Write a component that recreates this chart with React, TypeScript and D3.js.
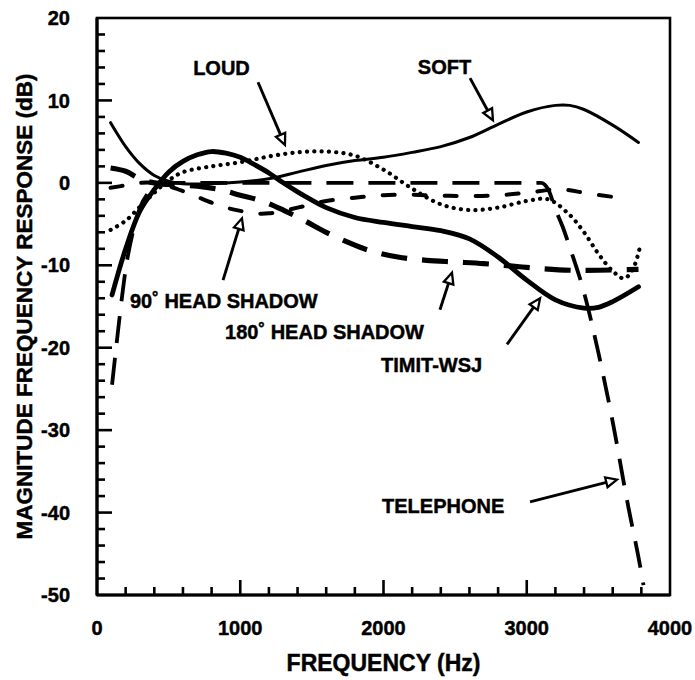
import React from 'react';
import * as d3 from 'd3';

// Frequency responses: [frequency (Hz), magnitude (dB)]
const soft: [number, number][] = [
  [95, 7.3], [200, 4.4], [300, 2.3], [400, 0.9], [500, 0.2], [600, -0.1], [800, -0.1],
  [1000, 0.1], [1200, 0.5], [1400, 1.3], [1600, 2.1], [1800, 2.7], [2000, 3.1],
  [2200, 3.7], [2400, 4.4], [2600, 5.5], [2800, 7.1], [3000, 8.6], [3200, 9.4],
  [3300, 9.4], [3400, 8.9], [3600, 7.0], [3780, 4.9],
];

const timitWsj: [number, number][] = [
  [105, -13.6], [200, -8], [300, -3.4], [400, -0.8], [500, 1.3], [600, 2.6], [700, 3.4],
  [800, 3.8], [900, 3.6], [1000, 3.1], [1100, 2.2], [1200, 1.2], [1300, 0], [1400, -1.1],
  [1500, -2.1], [1600, -3.0], [1800, -4.2], [2000, -4.8], [2200, -5.3], [2400, -5.8],
  [2600, -6.8], [2800, -9.0], [3000, -11.8], [3200, -14.2], [3400, -15.2], [3500, -15.1],
  [3600, -14.4], [3780, -12.6],
];

const loud: [number, number][] = [
  [95, -5.7], [200, -4.6], [300, -2.9], [400, -1.2], [500, 0.3], [600, 1.3], [800, 2.0],
  [1000, 2.5], [1200, 3.2], [1400, 3.7], [1600, 3.8], [1800, 3.3], [2000, 1.6],
  [2200, -0.7], [2400, -2.6], [2600, -3.3], [2800, -3.0], [3000, -2.2], [3150, -2.0],
  [3300, -3.9], [3400, -6.0], [3500, -8.6], [3600, -10.7], [3680, -11.6], [3740, -10.5],
  [3790, -7.8],
];

const telephone: [number, number][] = [
  [105, -24.5], [140, -19], [170, -14.5], [200, -10.5], [250, -6], [300, -3], [350, -1.4],
  [400, -0.5], [500, 0], [1000, 0], [2000, 0], [3000, 0], [3100, 0], [3150, -0.8],
  [3200, -3.2], [3250, -5.3], [3300, -7.8], [3400, -13.3], [3500, -20.6], [3600, -29],
  [3700, -38.5], [3800, -47.3], [3815, -48.8],
];

const headShadow180: [number, number][] = [
  [95, 1.8], [200, 1.4], [300, 0.5], [400, 0], [500, -0.2], [700, -0.4], [850, -0.8],
  [1000, -1.5], [1150, -2.2], [1300, -3.3], [1450, -4.6], [1600, -6.0], [1750, -7.2],
  [1900, -8.2], [2100, -9.0], [2300, -9.4], [2500, -9.6], [2700, -9.8], [2900, -10.1],
  [3100, -10.4], [3300, -10.6], [3500, -10.6], [3780, -10.5],
];

const headShadow90: [number, number][] = [
  [95, -0.6], [200, -0.3], [300, 0], [400, 0], [500, -0.4], [600, -1.0], [700, -1.7],
  [800, -2.4], [900, -3.0], [1000, -3.4], [1100, -3.7], [1200, -3.7], [1300, -3.4],
  [1400, -3.0], [1500, -2.6], [1600, -2.2], [1800, -1.8], [2000, -1.5], [2200, -1.45],
  [2400, -1.55], [2600, -1.6], [2800, -1.5], [3000, -1.2], [3200, -0.8], [3300, -0.9],
  [3400, -1.2], [3600, -1.7], [3700, -1.9],
];

const xTicks = [0, 1000, 2000, 3000, 4000];
const yTicks = [20, 10, 0, -10, -20, -30, -40, -50];

const W = 695;
const H = 680;
const FONT = "'Liberation Sans', Arial, Helvetica, sans-serif";

const x = d3.scaleLinear().domain([0, 4000]).range([97, 670]);
const y = d3.scaleLinear().domain([-50, 20]).range([595, 18]);

const smooth = d3
  .line<[number, number]>()
  .x((d) => x(d[0]))
  .y((d) => y(d[1]))
  .curve(d3.curveCatmullRom.alpha(0.5));

const monotone = d3
  .line<[number, number]>()
  .x((d) => x(d[0]))
  .y((d) => y(d[1]))
  .curve(d3.curveMonotoneX);

type Series = {
  name: string;
  data: [number, number][];
  width: number;
  dash?: string;
  cap: 'round' | 'butt';
  gen: typeof smooth;
};

const series: Series[] = [
  { name: 'telephone', data: telephone, width: 3.8, dash: '27 15', cap: 'butt', gen: monotone },
  { name: 'shadow180', data: headShadow180, width: 5.2, dash: '26 15', cap: 'butt', gen: smooth },
  { name: 'shadow90', data: headShadow90, width: 4, dash: '12 19', cap: 'round', gen: smooth },
  { name: 'loud', data: loud, width: 4.2, dash: '0.1 7.2', cap: 'round', gen: smooth },
  { name: 'soft', data: soft, width: 3, cap: 'round', gen: smooth },
  { name: 'timit', data: timitWsj, width: 4.8, cap: 'round', gen: smooth },
];

// Callouts in data units: label anchor and arrow from tail to tip
type Callout = {
  text: string;
  at: [number, number];
  anchor: 'start' | 'middle';
  from: [number, number];
  to: [number, number];
};

const callouts: Callout[] = [
  { text: 'LOUD', at: [869, 13.1], anchor: 'middle', from: [1124, 12.2], to: [1312, 4.6] },
  { text: 'SOFT', at: [2426, 13.2], anchor: 'middle', from: [2604, 12.7], to: [2764, 7.6] },
  { text: '90˚ HEAD SHADOW', at: [230, -15.15], anchor: 'start', from: [880, -11.8], to: [1012, -4.3] },
  { text: '180˚ HEAD SHADOW', at: [894, -19.0], anchor: 'start', from: [2394, -15.4], to: [2478, -10.9] },
  { text: 'TIMIT-WSJ', at: [1983, -22.9], anchor: 'start', from: [2862, -19.6], to: [3093, -14.0] },
  { text: 'TELEPHONE', at: [1990, -40.0], anchor: 'start', from: [3023, -38.7], to: [3630, -36.0] },
];

function Arrow({ from, to }: { from: [number, number]; to: [number, number] }) {
  const x1 = x(from[0]);
  const y1 = y(from[1]);
  const x2 = x(to[0]);
  const y2 = y(to[1]);
  const ang = Math.atan2(y2 - y1, x2 - x1);
  const len = 11;
  const half = 5;
  const bx = x2 - len * Math.cos(ang);
  const by = y2 - len * Math.sin(ang);
  const px = -Math.sin(ang) * half;
  const py = Math.cos(ang) * half;
  const head = `${x2},${y2} ${bx + px},${by + py} ${bx - px},${by - py}`;
  return (
    <g>
      <line x1={x1} y1={y1} x2={bx} y2={by} stroke="#000" strokeWidth={2.9} />
      <polygon points={head} fill="#fff" stroke="#000" strokeWidth={2.3} strokeLinejoin="miter" />
    </g>
  );
}

export default function App() {
  const xMinor = d3.range(0, 4001, 200);
  const yMinor = d3.range(-50, 21, 2);
  const [x0, x1] = x.range();
  const [y0, y1] = y.range();

  return (
    <svg
      width={W}
      height={H}
      viewBox={`0 0 ${W} ${H}`}
      style={{ position: 'absolute', left: 0, top: 0, background: '#fff' }}
      fontFamily={FONT}
      fontWeight="bold"
    >
      <rect x={0} y={0} width={W} height={H} fill="#fff" />

      {/* curves */}
      <g fill="none" stroke="#000" strokeLinejoin="round">
        {series.map((s) => (
          <path
            key={s.name}
            d={s.gen(s.data) ?? ''}
            strokeWidth={s.width}
            strokeDasharray={s.dash}
            strokeLinecap={s.cap}
          />
        ))}
      </g>

      {/* frame */}
      <rect x={x0} y={y1} width={x1 - x0} height={y0 - y1} fill="none" stroke="#000" strokeWidth={2.6} />
      <line x1={x0} y1={y1} x2={x0} y2={y0} stroke="#000" strokeWidth={3.2} />
      <line x1={x0} y1={y0} x2={x1} y2={y0} stroke="#000" strokeWidth={3.2} />

      {/* ticks, pointing inward */}
      <g stroke="#000" strokeWidth={2.6}>
        {xMinor.map((f) => {
          const major = f % 1000 === 0;
          if (f === 0 || f === 4000) return null;
          return <line key={`xt${f}`} x1={x(f)} x2={x(f)} y1={y0} y2={y0 - (major ? 15 : 8)} />;
        })}
        {yMinor.map((d) => {
          const major = d % 10 === 0;
          if (d === -50 || d === 20) return null;
          return <line key={`yt${d}`} x1={x0} x2={x0 + (major ? 15 : 8)} y1={y(d)} y2={y(d)} />;
        })}
      </g>

      {/* all text gets a hairline outline for a heavier face */}
      <g fill="#000" stroke="#000" strokeWidth={0.45}>
        {/* tick labels */}
        <g fontSize={20}>
          {xTicks.map((f) => (
            <text key={`xl${f}`} x={x(f)} y={635} textAnchor="middle">
              {f}
            </text>
          ))}
          {yTicks.map((d) => (
            <text key={`yl${d}`} x={70} y={y(d)} dy="0.36em" textAnchor="end">
              {d}
            </text>
          ))}
        </g>

        {/* axis titles */}
        <text x={(x0 + x1) / 2} y={671} fontSize={23} textAnchor="middle">
          FREQUENCY (Hz)
        </text>
        <text
          transform={`translate(32, ${(y0 + y1) / 2}) rotate(-90)`}
          fontSize={22.5}
          textAnchor="middle"
        >
          MAGNITUDE FREQUENCY RESPONSE (dB)
        </text>

        {/* callout labels */}
        <g fontSize={20}>
          {callouts.map((c) => (
            <text key={c.text} x={x(c.at[0])} y={y(c.at[1])} textAnchor={c.anchor}>
              {c.text}
            </text>
          ))}
        </g>
      </g>

      {/* callout arrows */}
      {callouts.map((c) => (
        <Arrow key={`a-${c.text}`} from={c.from} to={c.to} />
      ))}
    </svg>
  );
}
